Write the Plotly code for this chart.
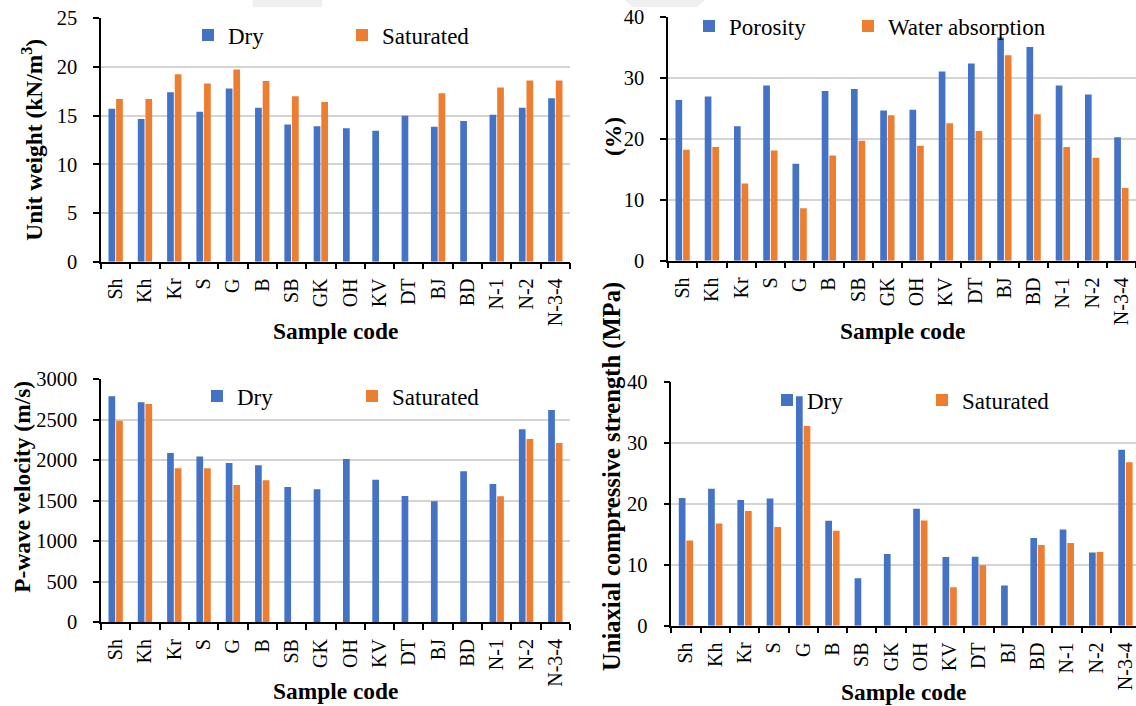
import plotly.graph_objects as go

W, H = 1136, 706

codes = ["Sh", "Kh", "Kr", "S", "G", "B", "SB", "GK", "OH", "KV", "DT", "BJ", "BD", "N-1", "N-2", "N-3-4"]

uw_dry = [15.7, 14.65, 17.4, 15.4, 17.8, 15.8, 14.1, 13.9, 13.7, 13.45, 15.0, 13.85, 14.45, 15.1, 15.8, 16.8]
uw_sat = [16.7, 16.7, 19.25, 18.3, 19.75, 18.55, 17.0, 16.4, None, None, None, 17.3, None, 17.9, 18.6, 18.6]

porosity = [26.4, 27.0, 22.1, 28.8, 15.95, 27.9, 28.2, 24.7, 24.8, 31.1, 32.4, 36.7, 35.1, 28.8, 27.3, 20.3]
water_abs = [18.25, 18.7, 12.7, 18.1, 8.6, 17.3, 19.7, 23.9, 18.9, 22.6, 21.3, 33.75, 24.05, 18.7, 16.9, 11.95]

vp_dry = [2786, 2712, 2088, 2043, 1965, 1936, 1668, 1640, 2014, 1759, 1558, 1492, 1862, 1706, 2380, 2618]
vp_sat = [2486, 2692, 1899, 1899, 1693, 1751, None, None, None, None, None, None, None, 1553, 2260, 2211]

ucs_dry = [21.0, 22.5, 20.65, 20.9, 37.7, 17.25, 7.8, 11.8, 19.2, 11.3, 11.35, 6.6, 14.4, 15.8, 12.05, 28.9]
ucs_sat = [14.0, 16.8, 18.85, 16.2, 32.8, 15.6, None, None, 17.3, 6.3, 9.95, None, 13.25, 13.6, 12.1, 26.85]

BLUE = "#4472C4"
ORANGE = "#ED7D31"
FONT = "Liberation Serif, Times New Roman, serif"

fig = go.Figure()

panels = [
    (uw_dry, "Dry", uw_sat, "Saturated", "x", "y", "legend"),
    (porosity, "Porosity", water_abs, "Water absorption", "x2", "y2", "legend2"),
    (vp_dry, "Dry", vp_sat, "Saturated", "x3", "y3", "legend3"),
    (ucs_dry, "Dry", ucs_sat, "Saturated", "x4", "y4", "legend4"),
]

for s1, n1, s2, n2, xa, ya, lg in panels:
    fig.add_trace(go.Bar(x=codes, y=s1, name=n1, marker=dict(color=BLUE, line=dict(width=0)),
                         xaxis=xa, yaxis=ya, legend=lg))
    fig.add_trace(go.Bar(x=codes, y=s2, name=n2, marker=dict(color=ORANGE, line=dict(width=0)),
                         xaxis=xa, yaxis=ya, legend=lg, legendwidth=190))


def px_x(p):
    return p / W


def px_y(p):
    return 1 - p / H


xcommon = dict(
    type="category", tickson="boundaries", ticks="outside", ticklen=6, tickwidth=1.5,
    tickcolor="black", showline=True, linecolor="black", linewidth=1.5, showgrid=False,
    tickangle=-90, tickfont=dict(family=FONT, size=20, color="black"), zeroline=False,
    fixedrange=True, automargin=False, ticklabelstandoff=7,
)
ycommon = dict(
    ticks="outside", ticklen=6, tickwidth=1.5, tickcolor="black", showline=True,
    linecolor="black", linewidth=1.5, showgrid=True, gridcolor="#d4d4d4", gridwidth=1.5,
    tickfont=dict(family=FONT, size=20.5, color="black"), zeroline=False,
    automargin=False, ticklabelstandoff=12,
)

fig.update_layout(
    xaxis=dict(xcommon, domain=[px_x(101), px_x(570)], anchor="y", range=[-0.5, 15.5]),
    yaxis=dict(ycommon, domain=[px_y(261.7), px_y(18.3)], anchor="x", range=[0, 25], dtick=5),
    xaxis2=dict(xcommon, domain=[px_x(668), 1.0], anchor="y2", range=[-0.5, 15.5]),
    yaxis2=dict(ycommon, domain=[px_y(260.7), px_y(17.3)], anchor="x2", range=[0, 40], dtick=10),
    xaxis3=dict(xcommon, domain=[px_x(101), px_x(570)], anchor="y3", range=[-0.5, 15.5]),
    yaxis3=dict(ycommon, domain=[px_y(622.3), px_y(379)], anchor="x3", range=[0, 3000], dtick=500),
    xaxis4=dict(xcommon, domain=[px_x(671.3), 1.0], anchor="y4", range=[-0.5, 15.36]),
    yaxis4=dict(ycommon, domain=[px_y(625.7), px_y(382.3)], anchor="x4", range=[0, 40], dtick=10),
)

legcommon = dict(orientation="h", xanchor="left", yanchor="middle", bgcolor="rgba(0,0,0,0)",
                 font=dict(family=FONT, size=23, color="black"), entrywidthmode="pixels",
                 itemclick=False, itemdoubleclick=False, borderwidth=0)

fig.update_layout(
    legend=dict(legcommon, x=px_x(188), y=px_y(35), entrywidth=109),
    legend2=dict(legcommon, x=px_x(689), y=px_y(26), entrywidth=114),
    legend3=dict(legcommon, x=px_x(197), y=px_y(396), entrywidth=110),
    legend4=dict(legcommon, x=px_x(767), y=px_y(400), entrywidth=110),
)

titles = [
    ("<b>Unit weight (kN/m<sup>3</sup>)</b>", 31.7, 140, -90, 23.4),
    ("<b>(%)</b>", 613, 137, -90, 23.4),
    ("<b>P-wave velocity (m/s)</b>", 21.7, 487, -90, 23.4),
    ("<b>Uniaxial compressive strength (MPa)</b>", 612, 476, -90, 24.6),
    ("<b>Sample code</b>", 335.5, 331, 0, 23.4),
    ("<b>Sample code</b>", 902, 331, 0, 23.4),
    ("<b>Sample code</b>", 335.5, 691, 0, 23.4),
    ("<b>Sample code</b>", 903, 692, 0, 23.4),
]
annotations = []
for txt, cx, cy, ang, fs in titles:
    annotations.append(dict(text=txt, x=px_x(cx), y=px_y(cy), xref="paper", yref="paper",
                            xanchor="center", yanchor="middle", showarrow=False, textangle=ang,
                            font=dict(family=FONT, size=fs, color="black")))

# faint page artefacts at the top edge of the source image
shapes = [
    dict(type="rect", xref="paper", yref="paper", x0=px_x(252.6), x1=px_x(322), y0=px_y(7.3), y1=1.0,
         fillcolor="#efefef", line=dict(width=0), layer="below"),
    dict(type="path", xref="paper", yref="paper",
         path="M {:.5f},{:.5f} L {:.5f},{:.5f} L {:.5f},{:.5f} L {:.5f},{:.5f} Z".format(
             px_x(624.6), 1.0, px_x(705), 1.0, px_x(697), px_y(7.3), px_x(633), px_y(7.3)),
         fillcolor="#efefef", line=dict(width=0), layer="below"),
]

fig.update_layout(
    width=W, height=H, autosize=False,
    margin=dict(l=0, r=0, t=0, b=0, pad=0, autoexpand=False),
    paper_bgcolor="white", plot_bgcolor="white",
    barmode="group", bargap=0.48, bargroupgap=0.12,
    annotations=annotations, shapes=shapes,
    font=dict(family=FONT, color="black"),
)

fig.write_html(
    "out.html",
    config={"displayModeBar": False},
    post_script="document.body.style.margin='0px';document.body.style.overflow='hidden';",
)
